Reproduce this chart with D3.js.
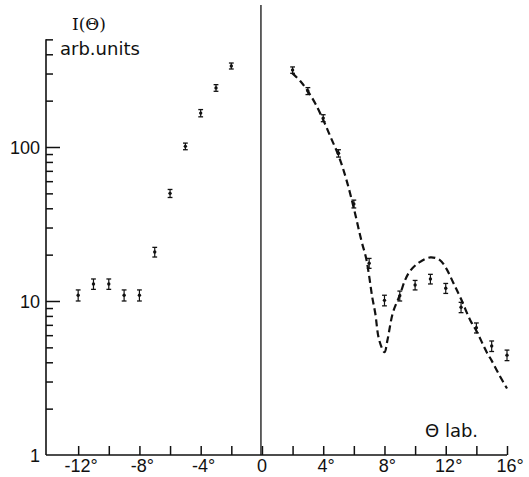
<!DOCTYPE html>
<html>
<head>
<meta charset="utf-8">
<script src="https://cdn.jsdelivr.net/npm/d3@7"></script>
<style>
body { margin: 0; background: #fff; }
svg { display: block; }
text { fill: #111; }
</style>
</head>
<body>
<div id="chart"></div>
<script>
// measured points, left side of the beam and right side
var angles = [-12, -11, -10, -9, -8, -7, -6, -5, -4, -3, -2,
              2, 3, 4, 5, 6, 7, 8, 9, 10, 11, 12, 13, 14, 15, 16];
var intensity = [10.9, 12.9, 12.9, 10.9, 10.9, 20.8, 50, 101, 166, 242, 336,
                 316, 231, 154, 91, 42.7, 17.6, 10.1, 10.8, 12.7, 13.9, 12.1, 9.1, 6.7, 5.1, 4.45];
var errLow = [0.9, 1.0, 1.0, 0.9, 0.9, 1.5, 3, 5, 9, 12, 15,
              15, 12, 8, 5, 2.5, 1.3, 0.8, 0.8, 0.9, 1.0, 0.9, 0.7, 0.5, 0.4, 0.35];

// calculated curve (dashed)
var curveAngles = [1.96, 2.5, 3, 3.5, 4, 4.5, 5, 5.5, 6, 6.5, 6.8, 7.0, 7.2, 7.4, 7.65, 8.0, 8.2,
                   8.55, 9.0, 9.35, 9.7, 10.3, 11, 11.6, 12, 12.5, 13, 13.6, 14, 14.7, 15, 15.5, 16];
var curveValues = [303, 268, 230, 190, 150, 115, 88, 62, 40, 24.5, 19, 14.5, 10.6, 8.3, 5.6, 4.65, 5.6,
                   8.4, 10.9, 13.7, 15.8, 17.9, 19.2, 18.5, 16.5, 13.1, 10.3, 7.5, 6.4, 4.6, 4.1, 3.3, 2.7];

var xTicks = [-12, -10, -8, -6, -4, -2, 0, 2, 4, 6, 8, 10, 12, 14, 16];
var xLabels = [-12, -8, -4, 0, 4, 8, 12, 16];
var yMajor = [1, 10, 100];
var yMinor = [2, 3, 4, 5, 6, 7, 8, 9, 20, 30, 40, 50, 60, 70, 80, 90, 200, 300, 400, 500];

var width = 529, height = 477;
var x0 = 46, x1 = 507, yBottom = 455;
var numFont = '"Liberation Sans", Arial, sans-serif';
var wordFont = '"DejaVu Sans", sans-serif';

var svg = d3.select('#chart').append('svg')
    .attr('width', width)
    .attr('height', height);

var xScale = d3.scaleLinear().domain([-14.1, 16]).range([x0, x1]);
var yScale = d3.scaleLog().domain([1, 1000]).range([yBottom, yBottom - 3 * 154]);

var ink = '#111';

// x axis with ticks pointing up
var xAxis = d3.axisTop(xScale).tickValues(xTicks).tickSize(9).tickFormat('');
var gx = svg.append('g')
    .attr('transform', `translate(0,${yBottom})`)
    .call(xAxis);
gx.select('.domain').remove();
gx.selectAll('line').attr('stroke', ink).attr('stroke-width', 1.5);
svg.append('line')
    .attr('x1', x0).attr('x2', x1)
    .attr('y1', yBottom).attr('y2', yBottom)
    .attr('stroke', ink).attr('stroke-width', 1.6);

svg.selectAll('.xlab')
    .data(xLabels)
    .enter()
    .append('text')
    .attr('class', 'xlab')
    .attr('x', d => xScale(d) + (d === 0 ? 0 : 3))
    .attr('y', 472)
    .attr('text-anchor', 'middle')
    .style('font-family', numFont)
    .style('font-size', '18px')
    .text(d => d === 0 ? '0' : d + '°');

// y axis, ticks point inward
svg.append('line')
    .attr('x1', x0).attr('x2', x0)
    .attr('y1', yScale(500)).attr('y2', yBottom)
    .attr('stroke', ink).attr('stroke-width', 1.6);

var yAxisMajor = d3.axisRight(yScale).tickValues(yMajor.slice(1)).tickSize(14).tickFormat('');
var gy = svg.append('g').attr('transform', `translate(${x0},0)`).call(yAxisMajor);
gy.select('.domain').remove();
gy.selectAll('line').attr('stroke', ink).attr('stroke-width', 1.5);

var yAxisMinor = d3.axisRight(yScale).tickValues(yMinor).tickSize(7).tickFormat('');
var gy2 = svg.append('g').attr('transform', `translate(${x0},0)`).call(yAxisMinor);
gy2.select('.domain').remove();
gy2.selectAll('line').attr('stroke', ink).attr('stroke-width', 1.5);

svg.selectAll('.ylab')
    .data(yMajor)
    .enter()
    .append('text')
    .attr('class', 'ylab')
    .attr('x', 40)
    .attr('y', d => yScale(d) + 7)
    .attr('text-anchor', 'end')
    .style('font-family', numFont)
    .style('font-size', '18px')
    .text(d => d);

// zero line
svg.append('line')
    .attr('x1', xScale(0) - 1).attr('x2', xScale(0) - 1)
    .attr('y1', 5).attr('y2', yBottom)
    .attr('stroke', ink).attr('stroke-width', 1.3);

// axis titles
svg.append('text').attr('x', 72).attr('y', 30)
    .style('font-family', '"DejaVu Serif", serif').style('font-size', '17px')
    .text('I(Θ)');
svg.append('text').attr('x', 60).attr('y', 55)
    .style('font-family', wordFont).style('font-size', '18px')
    .text('arb.units');
svg.append('text').attr('x', 425).attr('y', 437)
    .style('font-family', wordFont).style('font-size', '18px')
    .text('Θ lab.');

// dashed curve
var curveData = curveAngles.map((a, i) => ({a: a, v: curveValues[i]}));
var line = d3.line()
    .x(d => xScale(d.a))
    .y(d => yScale(d.v))
    .curve(d3.curveCatmullRom.alpha(0.5));
svg.append('path')
    .datum(curveData)
    .attr('d', line)
    .attr('fill', 'none')
    .attr('stroke', ink)
    .attr('stroke-width', 2.2)
    .attr('stroke-dasharray', '7,4');

// data points with error bars
var pts = angles.map((a, i) => ({a: a, v: intensity[i], e: errLow[i]}));
var g = svg.selectAll('.pt').data(pts).enter().append('g').attr('class', 'pt');
g.append('line')
    .attr('x1', d => xScale(d.a)).attr('x2', d => xScale(d.a))
    .attr('y1', d => yScale(d.v + d.e)).attr('y2', d => yScale(d.v - d.e))
    .attr('stroke', ink).attr('stroke-width', 1.2);
[1, -1].forEach(function(s) {
  g.append('line')
    .attr('x1', d => xScale(d.a) - 2.4).attr('x2', d => xScale(d.a) + 2.4)
    .attr('y1', d => yScale(d.v + s * d.e)).attr('y2', d => yScale(d.v + s * d.e))
    .attr('stroke', ink).attr('stroke-width', 1.3);
});
g.append('circle')
    .attr('cx', d => xScale(d.a)).attr('cy', d => yScale(d.v))
    .attr('r', 1.7).attr('fill', ink);
</script>
</body>
</html>
